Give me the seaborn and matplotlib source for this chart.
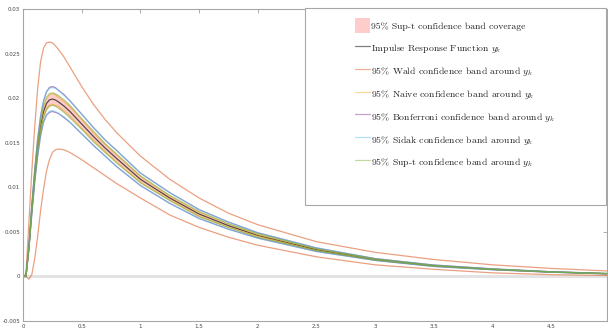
import numpy as np
import matplotlib
matplotlib.use("Agg")
import matplotlib.pyplot as plt
from matplotlib.lines import Line2D
from matplotlib.patches import Patch, Rectangle
import seaborn as sns

# horizon (time) grid
t = [0, 0.025, 0.05, 0.075, 0.1, 0.125, 0.15, 0.175, 0.2, 0.225, 0.25, 0.275, 0.3,
     0.35, 0.4, 0.5, 0.6, 0.7, 0.8, 1.0, 1.25, 1.5, 1.75, 2.0, 2.5, 3.0, 3.5, 4.0, 4.5, 5.0]

# impulse response y_k
irf = [0, 0, 0.0032, 0.0075, 0.0113, 0.0145, 0.0169, 0.0185, 0.0194, 0.0198, 0.0199, 0.0198, 0.0196,
       0.0191, 0.0185, 0.0171, 0.0157, 0.0144, 0.0132, 0.0109, 0.0088, 0.0070, 0.0057, 0.0046,
       0.0030, 0.0019, 0.0012, 0.0008, 0.0005, 0.0003]

# Wald band
wald_hi = [0, 0.0003, 0.0060, 0.0118, 0.0168, 0.0211, 0.0241, 0.0256, 0.0262, 0.0263, 0.0262, 0.0259, 0.0255,
           0.0246, 0.0235, 0.0213, 0.0193, 0.0176, 0.0161, 0.0135, 0.0109, 0.0088, 0.0071, 0.0058,
           0.0039, 0.0027, 0.0019, 0.0013, 0.0009, 0.0006]
wald_lo = [0, 0, -0.0003, 0.0002, 0.0020, 0.0045, 0.0074, 0.0098, 0.0118, 0.0131, 0.0139, 0.0142, 0.0143,
           0.0142, 0.0139, 0.0131, 0.0122, 0.0113, 0.0104, 0.0088, 0.0069, 0.0055, 0.0044, 0.0035,
           0.0022, 0.0013, 0.0008, 0.0004, 0.0002, 0.0001]

# naive band
naive_hi = [0, 0, 0.0033, 0.0077, 0.0116, 0.0149, 0.0174, 0.0190, 0.0199, 0.0204, 0.0205, 0.0204, 0.0201,
            0.0196, 0.0190, 0.0176, 0.0161, 0.0148, 0.0136, 0.0112, 0.0090, 0.0072, 0.0059, 0.0047,
            0.0031, 0.00195, 0.00123, 0.00082, 0.00051, 0.00031]
naive_lo = [0, 0, 0.0031, 0.0073, 0.0110, 0.0141, 0.0164, 0.0180, 0.0189, 0.0192, 0.0193, 0.0192, 0.0191,
            0.0186, 0.0180, 0.0166, 0.0153, 0.0140, 0.0128, 0.0106, 0.0086, 0.0068, 0.0055, 0.0045,
            0.0029, 0.00185, 0.00117, 0.00078, 0.00049, 0.00029]

# Bonferroni band
bonf_hi = [0, 0, 0.0034, 0.0080, 0.0120, 0.0155, 0.0180, 0.0197, 0.0207, 0.0212, 0.0213, 0.0212, 0.0209,
           0.0204, 0.0197, 0.0182, 0.0167, 0.0153, 0.0141, 0.0116, 0.0094, 0.0075, 0.0061, 0.0049,
           0.0032, 0.0020, 0.00128, 0.00085, 0.00053, 0.00032]
bonf_lo = [0, 0, 0.0030, 0.0070, 0.0106, 0.0135, 0.0158, 0.0173, 0.0181, 0.0184, 0.0185, 0.0184, 0.0183,
           0.0178, 0.0173, 0.0160, 0.0147, 0.0135, 0.0123, 0.0102, 0.0082, 0.0065, 0.0053, 0.0043,
           0.0028, 0.0018, 0.00112, 0.00075, 0.00047, 0.00028]

# Sidak band
sidak_hi = [0, 0, 0.0034, 0.0080, 0.0120, 0.0154, 0.0180, 0.0197, 0.0207, 0.0211, 0.0212, 0.0211, 0.0209,
            0.0203, 0.0197, 0.0182, 0.0167, 0.0153, 0.0141, 0.0116, 0.0094, 0.0075, 0.0061, 0.0049,
            0.0032, 0.0020, 0.00128, 0.00085, 0.00053, 0.00032]
sidak_lo = [0, 0, 0.0030, 0.0070, 0.0106, 0.0136, 0.0158, 0.0173, 0.0181, 0.0185, 0.0186, 0.0185, 0.0183,
            0.0179, 0.0173, 0.0160, 0.0147, 0.0135, 0.0123, 0.0102, 0.0082, 0.0065, 0.0053, 0.0043,
            0.0028, 0.0018, 0.00112, 0.00075, 0.00047, 0.00028]

# sup-t band
supt_hi = [0, 0, 0.0033, 0.0078, 0.0117, 0.0150, 0.0175, 0.0192, 0.0201, 0.0205, 0.0206, 0.0205, 0.0203,
           0.0198, 0.0192, 0.0177, 0.0163, 0.0149, 0.0137, 0.0113, 0.0091, 0.0073, 0.0059, 0.0048,
           0.0031, 0.00197, 0.00124, 0.00083, 0.00052, 0.00031]
supt_lo = [0, 0, 0.0031, 0.0072, 0.0109, 0.0140, 0.0163, 0.0178, 0.0187, 0.0191, 0.0192, 0.0191, 0.0189,
           0.0184, 0.0178, 0.0165, 0.0151, 0.0139, 0.0127, 0.0105, 0.0085, 0.0067, 0.0055, 0.0044,
           0.0029, 0.00183, 0.00116, 0.00077, 0.00048, 0.00029]

labels = ["95% Sup-t confidence band coverage",
          "Impulse Response Function $y_k$",
          "95% Wald confidence band around $y_k$",
          "95% Naive confidence band around $y_k$",
          "95% Bonferroni confidence band around $y_k$",
          "95% Sidak confidence band around $y_k$",
          "95% Sup-t confidence band around $y_k$"]

xticks = [0, 0.5, 1, 1.5, 2, 2.5, 3, 3.5, 4, 4.5]
yticks = [-0.005, 0, 0.005, 0.01, 0.015, 0.02, 0.025, 0.03]

sns.set_style("white")
plt.rcParams["mathtext.fontset"] = "cm"

# matlab-ish colours
c_wald = "#D95319"
c_naive = "#EDB120"
c_bonf = "#7E2F8E"
c_sidak = "#4DBEEE"
c_supt = "#77AC30"
lalpha = 0.55

fig = plt.figure(figsize=(6.08, 3.31), dpi=100)
ax = fig.add_axes([23 / 608, 10 / 331, 584 / 608, 312 / 331])

ax.axhline(0, color="#e3e3e3", lw=2.2, zorder=1)
ax.fill_between(t, supt_lo, supt_hi, color="red", alpha=0.2, lw=0, zorder=2)

sns.lineplot(x=t, y=irf, ax=ax, color="black", alpha=0.65, lw=0.9, estimator=None)
for lo, hi, c in [(wald_lo, wald_hi, c_wald), (naive_lo, naive_hi, c_naive),
                  (bonf_lo, bonf_hi, c_bonf), (sidak_lo, sidak_hi, c_sidak),
                  (supt_lo, supt_hi, c_supt)]:
    sns.lineplot(x=t, y=hi, ax=ax, color=c, alpha=lalpha, lw=0.9, estimator=None)
    sns.lineplot(x=t, y=lo, ax=ax, color=c, alpha=lalpha, lw=0.9, estimator=None)

ax.set_xlim(0, 4.975)
ax.set_ylim(-0.005, 0.03)
ax.set_xticks(xticks)
ax.set_xticklabels([f"{v:g}" for v in xticks])
ax.set_yticks(yticks)
ax.set_yticklabels([f"{v:g}" for v in yticks])
ax.tick_params(direction="in", length=3, width=0.6, color="#a0a0a0",
               labelsize=4, labelcolor="#444444", pad=2,
               top=True, right=True)
for s in ax.spines.values():
    s.set_visible(True)
    s.set_color("#a6a6a6")
    s.set_linewidth(0.8)

# legend frame
frame = Rectangle((305 / 608, 1 - 205 / 331), 301 / 608, 197 / 331,
                  transform=fig.transFigure, facecolor="white",
                  edgecolor="#a6a6a6", lw=0.8, zorder=4, clip_on=False)
ax.add_patch(frame)

handles = [Patch(facecolor="red", alpha=0.2, lw=0),
           Line2D([], [], color="black", alpha=0.5, lw=0.9),
           Line2D([], [], color=c_wald, alpha=0.45, lw=0.9),
           Line2D([], [], color=c_naive, alpha=0.45, lw=0.9),
           Line2D([], [], color=c_bonf, alpha=0.45, lw=0.9),
           Line2D([], [], color=c_sidak, alpha=0.45, lw=0.9),
           Line2D([], [], color=c_supt, alpha=0.45, lw=0.9)]
leg = ax.legend(handles, labels, loc="upper left",
                bbox_to_anchor=(355 / 608, 1 - 18 / 331), bbox_transform=fig.transFigure,
                frameon=False, borderpad=0, borderaxespad=0,
                handlelength=1.55, handleheight=2.0, handletextpad=0.1,
                labelspacing=0.8, prop={"family": "cmr10", "size": 7})
leg.set_zorder(5)

fig.savefig("out.png", dpi=100)
